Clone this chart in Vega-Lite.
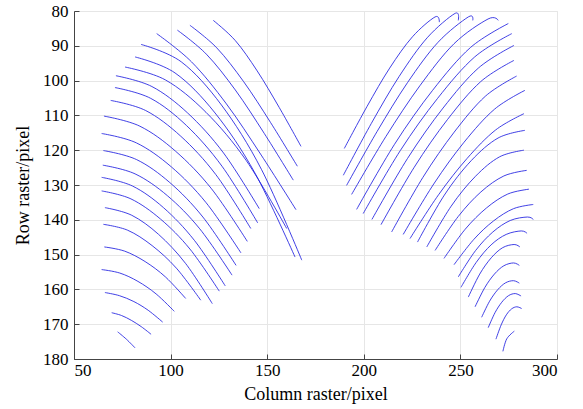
{
  "$schema": "https://vega.github.io/schema/vega-lite/v6.json",
  "width": 483,
  "height": 348,
  "autosize": "none",
  "padding": {"left": 74, "top": 11, "right": 26, "bottom": 50},
  "background": "white",
  "view": {"stroke": "#e6e6e6"},
  "config": {
    "axis": {
      "labelFont": "Liberation Serif", "labelFontSize": 17, "labelColor": "#000",
      "titleFont": "Liberation Serif", "titleFontSize": 18, "titleFontWeight": "normal", "titleColor": "#000",
      "domainColor": "#444", "tickColor": "#444", "gridColor": "#e6e6e6"
    }
  },
  "data": {"values": [
    {"c":"L1","i":0,"x":122.1,"y":82.7},{"c":"L1","i":1,"x":133.5,"y":88.5},{"c":"L1","i":2,"x":144.8,"y":97.2},{"c":"L1","i":3,"x":156.2,"y":107.7},{"c":"L1","i":4,"x":167.5,"y":118.9},
    {"c":"L2","i":0,"x":110.0,"y":84.1},{"c":"L2","i":1,"x":123.9,"y":90.6},{"c":"L2","i":2,"x":137.8,"y":100.3},{"c":"L2","i":3,"x":151.7,"y":112.0},{"c":"L2","i":4,"x":165.6,"y":124.6},
    {"c":"L3","i":0,"x":103.5,"y":85.5},{"c":"L3","i":1,"x":118.5,"y":92.4},{"c":"L3","i":2,"x":133.5,"y":102.7},{"c":"L3","i":3,"x":148.5,"y":115.2},{"c":"L3","i":4,"x":163.5,"y":128.6},
    {"c":"L4","i":0,"x":92.8,"y":86.5},{"c":"L4","i":1,"x":110.8,"y":94.6},{"c":"L4","i":2,"x":128.9,"y":106.7},{"c":"L4","i":3,"x":146.9,"y":121.4},{"c":"L4","i":4,"x":164.9,"y":137.1},
    {"c":"L5","i":0,"x":84.7,"y":89.6},{"c":"L5","i":1,"x":105.5,"y":94.6},{"c":"L5","i":2,"x":126.3,"y":107.0},{"c":"L5","i":3,"x":147.1,"y":125.6},{"c":"L5","i":4,"x":167.9,"y":151.6},
    {"c":"L6","i":0,"x":81.6,"y":93.2},{"c":"L6","i":1,"x":102.3,"y":97.8},{"c":"L6","i":2,"x":123.0,"y":109.3},{"c":"L6","i":3,"x":143.7,"y":126.6},{"c":"L6","i":4,"x":164.4,"y":150.7},
    {"c":"L7","i":0,"x":76.4,"y":96.1},{"c":"L7","i":1,"x":97.3,"y":99.8},{"c":"L7","i":2,"x":118.3,"y":109.1},{"c":"L7","i":3,"x":139.2,"y":123.0},{"c":"L7","i":4,"x":160.1,"y":142.5},
    {"c":"L8","i":0,"x":71.7,"y":98.6},{"c":"L8","i":1,"x":90.3,"y":101.7},{"c":"L8","i":2,"x":108.8,"y":109.3},{"c":"L8","i":3,"x":127.4,"y":120.8},{"c":"L8","i":4,"x":145.9,"y":136.8},
    {"c":"L9","i":0,"x":71.2,"y":102.0},{"c":"L9","i":1,"x":89.7,"y":105.1},{"c":"L9","i":2,"x":108.2,"y":112.9},{"c":"L9","i":3,"x":126.6,"y":124.6},{"c":"L9","i":4,"x":145.1,"y":140.9},
    {"c":"L10","i":0,"x":69.0,"y":105.7},{"c":"L10","i":1,"x":87.1,"y":108.6},{"c":"L10","i":2,"x":105.3,"y":116.0},{"c":"L10","i":3,"x":123.4,"y":127.0},{"c":"L10","i":4,"x":141.5,"y":142.5},
    {"c":"L11","i":0,"x":65.5,"y":110.2},{"c":"L11","i":1,"x":84.1,"y":113.1},{"c":"L11","i":2,"x":102.6,"y":120.3},{"c":"L11","i":3,"x":121.2,"y":131.1},{"c":"L11","i":4,"x":139.7,"y":146.2},
    {"c":"L12","i":0,"x":64.3,"y":115.2},{"c":"L12","i":1,"x":82.3,"y":117.9},{"c":"L12","i":2,"x":100.4,"y":124.8},{"c":"L12","i":3,"x":118.4,"y":135.1},{"c":"L12","i":4,"x":136.4,"y":149.5},
    {"c":"L13","i":0,"x":65.2,"y":120.1},{"c":"L13","i":1,"x":82.4,"y":122.7},{"c":"L13","i":2,"x":99.6,"y":129.3},{"c":"L13","i":3,"x":116.7,"y":139.2},{"c":"L13","i":4,"x":133.9,"y":153.1},
    {"c":"L14","i":0,"x":64.9,"y":124.3},{"c":"L14","i":1,"x":81.6,"y":126.8},{"c":"L14","i":2,"x":98.4,"y":133.1},{"c":"L14","i":3,"x":115.1,"y":142.6},{"c":"L14","i":4,"x":131.8,"y":155.9},
    {"c":"L15","i":0,"x":64.3,"y":127.8},{"c":"L15","i":1,"x":80.3,"y":130.3},{"c":"L15","i":2,"x":96.3,"y":136.5},{"c":"L15","i":3,"x":112.3,"y":145.9},{"c":"L15","i":4,"x":128.3,"y":159.0},
    {"c":"L16","i":0,"x":64.3,"y":131.7},{"c":"L16","i":1,"x":79.5,"y":134.0},{"c":"L16","i":2,"x":94.8,"y":139.8},{"c":"L16","i":3,"x":110.0,"y":148.4},{"c":"L16","i":4,"x":125.2,"y":160.5},
    {"c":"L17","i":0,"x":66.0,"y":136.5},{"c":"L17","i":1,"x":79.9,"y":138.7},{"c":"L17","i":2,"x":93.8,"y":144.2},{"c":"L17","i":3,"x":107.7,"y":152.5},{"c":"L17","i":4,"x":121.6,"y":164.1},
    {"c":"L18","i":0,"x":65.2,"y":141.3},{"c":"L18","i":1,"x":77.8,"y":143.0},{"c":"L18","i":2,"x":90.4,"y":147.4},{"c":"L18","i":3,"x":103.0,"y":153.9},{"c":"L18","i":4,"x":115.6,"y":163.1},
    {"c":"L19","i":0,"x":65.7,"y":147.8},{"c":"L19","i":1,"x":76.2,"y":149.0},{"c":"L19","i":2,"x":86.8,"y":152.0},{"c":"L19","i":3,"x":97.3,"y":156.4},{"c":"L19","i":4,"x":107.8,"y":162.6},
    {"c":"L20","i":0,"x":64.3,"y":154.3},{"c":"L20","i":1,"x":73.7,"y":155.3},{"c":"L20","i":2,"x":83.1,"y":157.7},{"c":"L20","i":3,"x":92.5,"y":161.3},{"c":"L20","i":4,"x":101.9,"y":166.3},
    {"c":"L21","i":0,"x":66.0,"y":160.9},{"c":"L21","i":1,"x":73.5,"y":161.8},{"c":"L21","i":2,"x":81.0,"y":163.5},{"c":"L21","i":3,"x":88.4,"y":166.0},{"c":"L21","i":4,"x":95.9,"y":169.4},
    {"c":"L22","i":0,"x":69.5,"y":166.7},{"c":"L22","i":1,"x":74.6,"y":167.5},{"c":"L22","i":2,"x":79.7,"y":168.9},{"c":"L22","i":3,"x":84.8,"y":170.7},{"c":"L22","i":4,"x":89.9,"y":172.9},
    {"c":"L23","i":0,"x":72.6,"y":172.2},{"c":"L23","i":1,"x":77.1,"y":174.3},{"c":"L23","i":2,"x":81.6,"y":176.8},
    {"c":"R1","i":0,"x":189.9,"y":119.5},{"c":"R1","i":1,"x":201.7,"y":107.4},{"c":"R1","i":2,"x":213.4,"y":96.4},{"c":"R1","i":3,"x":225.2,"y":87.4},{"c":"R1","i":4,"x":236.9,"y":81.7},{"c":"R1","i":5,"x":239.1,"y":83.2},
    {"c":"R2","i":0,"x":189.4,"y":127.2},{"c":"R2","i":1,"x":203.9,"y":112.3},{"c":"R2","i":2,"x":218.3,"y":98.8},{"c":"R2","i":3,"x":232.8,"y":87.7},{"c":"R2","i":4,"x":247.2,"y":80.7},{"c":"R2","i":5,"x":248.9,"y":82.7},
    {"c":"R3","i":0,"x":191.1,"y":130.1},{"c":"R3","i":1,"x":206.9,"y":114.6},{"c":"R3","i":2,"x":222.6,"y":100.6},{"c":"R3","i":3,"x":238.4,"y":89.0},{"c":"R3","i":4,"x":254.1,"y":81.7},{"c":"R3","i":5,"x":256.4,"y":82.7},
    {"c":"R4","i":0,"x":193.7,"y":132.7},{"c":"R4","i":1,"x":211.4,"y":116.1},{"c":"R4","i":2,"x":229.0,"y":101.5},{"c":"R4","i":3,"x":246.7,"y":89.4},{"c":"R4","i":4,"x":264.3,"y":82.3},{"c":"R4","i":5,"x":269.6,"y":82.7},
    {"c":"R5","i":0,"x":196.3,"y":137.0},{"c":"R5","i":1,"x":215.9,"y":118.3},{"c":"R5","i":2,"x":235.6,"y":102.8},{"c":"R5","i":3,"x":255.2,"y":90.5},{"c":"R5","i":4,"x":274.8,"y":83.6},
    {"c":"R6","i":0,"x":199.7,"y":138.2},{"c":"R6","i":1,"x":218.9,"y":120.1},{"c":"R6","i":2,"x":238.2,"y":105.1},{"c":"R6","i":3,"x":257.4,"y":93.2},{"c":"R6","i":4,"x":276.6,"y":86.5},
    {"c":"R7","i":0,"x":204.2,"y":139.9},{"c":"R7","i":1,"x":222.6,"y":122.4},{"c":"R7","i":2,"x":241.0,"y":107.9},{"c":"R7","i":3,"x":259.3,"y":96.4},{"c":"R7","i":4,"x":277.7,"y":89.9},
    {"c":"R8","i":0,"x":208.9,"y":141.4},{"c":"R8","i":1,"x":226.1,"y":124.9},{"c":"R8","i":2,"x":243.3,"y":111.2},{"c":"R8","i":3,"x":260.5,"y":100.3},{"c":"R8","i":4,"x":277.7,"y":94.2},
    {"c":"R9","i":0,"x":214.4,"y":143.5},{"c":"R9","i":1,"x":230.6,"y":127.8},{"c":"R9","i":2,"x":246.8,"y":114.8},{"c":"R9","i":3,"x":262.9,"y":104.5},{"c":"R9","i":4,"x":279.1,"y":98.7},
    {"c":"R10","i":0,"x":220.4,"y":144.2},{"c":"R10","i":1,"x":236.2,"y":129.7},{"c":"R10","i":2,"x":251.9,"y":117.7},{"c":"R10","i":3,"x":267.7,"y":108.2},{"c":"R10","i":4,"x":283.4,"y":102.8},
    {"c":"R11","i":0,"x":223.9,"y":145.4},{"c":"R11","i":1,"x":238.7,"y":132.8},{"c":"R11","i":2,"x":253.4,"y":122.4},{"c":"R11","i":3,"x":268.2,"y":114.2},{"c":"R11","i":4,"x":282.9,"y":109.5},
    {"c":"R12","i":0,"x":227.8,"y":146.4},{"c":"R12","i":1,"x":241.7,"y":132.9},{"c":"R12","i":2,"x":255.6,"y":123.0},{"c":"R12","i":3,"x":269.5,"y":116.5},{"c":"R12","i":4,"x":283.4,"y":114.3},
    {"c":"R13","i":0,"x":232.6,"y":147.8},{"c":"R13","i":1,"x":245.2,"y":136.1},{"c":"R13","i":2,"x":257.8,"y":127.5},{"c":"R13","i":3,"x":270.3,"y":121.9},{"c":"R13","i":4,"x":282.9,"y":120.0},
    {"c":"R14","i":0,"x":236.9,"y":148.8},{"c":"R14","i":1,"x":248.8,"y":139.1},{"c":"R14","i":2,"x":260.6,"y":132.0},{"c":"R14","i":3,"x":272.5,"y":127.4},{"c":"R14","i":4,"x":284.3,"y":125.8},
    {"c":"R15","i":0,"x":241.5,"y":151.1},{"c":"R15","i":1,"x":252.5,"y":142.7},{"c":"R15","i":2,"x":263.5,"y":136.6},{"c":"R15","i":3,"x":274.5,"y":132.6},{"c":"R15","i":4,"x":285.5,"y":131.2},
    {"c":"R16","i":0,"x":246.7,"y":152.9},{"c":"R16","i":1,"x":257.0,"y":145.6},{"c":"R16","i":2,"x":267.2,"y":140.3},{"c":"R16","i":3,"x":277.5,"y":136.8},{"c":"R16","i":4,"x":287.7,"y":135.6},
    {"c":"R17","i":0,"x":248.9,"y":156.4},{"c":"R17","i":1,"x":257.9,"y":148.8},{"c":"R17","i":2,"x":266.8,"y":143.5},{"c":"R17","i":3,"x":275.8,"y":140.2},{"c":"R17","i":4,"x":284.7,"y":139.2},{"c":"R17","i":5,"x":287.7,"y":139.9},
    {"c":"R18","i":0,"x":250.3,"y":159.4},{"c":"R18","i":1,"x":258.1,"y":152.3},{"c":"R18","i":2,"x":265.9,"y":147.2},{"c":"R18","i":3,"x":273.7,"y":144.2},{"c":"R18","i":4,"x":281.5,"y":143.2},{"c":"R18","i":5,"x":284.5,"y":143.9},
    {"c":"R19","i":0,"x":254.1,"y":162.2},{"c":"R19","i":1,"x":260.0,"y":155.6},{"c":"R19","i":2,"x":266.0,"y":150.9},{"c":"R19","i":3,"x":271.9,"y":148.0},{"c":"R19","i":4,"x":277.8,"y":147.1},{"c":"R19","i":5,"x":280.8,"y":147.8},
    {"c":"R20","i":0,"x":257.6,"y":165.0},{"c":"R20","i":1,"x":262.6,"y":159.5},{"c":"R20","i":2,"x":267.6,"y":155.6},{"c":"R20","i":3,"x":272.5,"y":153.2},{"c":"R20","i":4,"x":277.5,"y":152.4},{"c":"R20","i":5,"x":280.5,"y":153.1},
    {"c":"R21","i":0,"x":261.0,"y":168.0},{"c":"R21","i":1,"x":265.1,"y":163.4},{"c":"R21","i":2,"x":269.3,"y":160.1},{"c":"R21","i":3,"x":273.4,"y":158.1},{"c":"R21","i":4,"x":277.5,"y":157.5},{"c":"R21","i":5,"x":280.5,"y":158.2},
    {"c":"R22","i":0,"x":264.4,"y":171.0},{"c":"R22","i":1,"x":267.9,"y":166.7},{"c":"R22","i":2,"x":271.4,"y":163.7},{"c":"R22","i":3,"x":274.9,"y":161.8},{"c":"R22","i":4,"x":278.4,"y":161.2},{"c":"R22","i":5,"x":281.4,"y":161.9},
    {"c":"R23","i":0,"x":268.4,"y":174.3},{"c":"R23","i":1,"x":271.1,"y":170.2},{"c":"R23","i":2,"x":273.8,"y":167.3},{"c":"R23","i":3,"x":276.5,"y":165.6},{"c":"R23","i":4,"x":279.2,"y":165.0},{"c":"R23","i":5,"x":281.7,"y":165.5},
    {"c":"R24","i":0,"x":272.0,"y":177.8},{"c":"R24","i":1,"x":274.0,"y":174.2},{"c":"R24","i":2,"x":277.9,"y":172.0}
  ]},
  "mark": {"type": "line", "interpolate": "cardinal", "color": "#2020e0", "strokeWidth": 1, "opacity": 0.85, "clip": true},
  "encoding": {
    "x": {"field": "x", "type": "quantitative", "scale": {"domain": [50, 300], "nice": false, "zero": false},
          "axis": {"values": [50, 100, 150, 200, 250, 300], "title": "Column raster/pixel",
                   "titleFont": "Liberation Serif", "titleFontSize": 18, "titleFontWeight": "normal",
                   "tickSize": -5, "labelPadding": 8, "titlePadding": 7,
                   "encode": {"labels": {"update": {"font": {"value": "Liberation Serif"}, "fontSize": {"value": 17}, "fill": {"value": "#000"}}}}}},
    "y": {"field": "y", "type": "quantitative", "scale": {"domain": [80, 180], "reverse": true, "nice": false, "zero": false},
          "axis": {"values": [80, 90, 100, 110, 120, 130, 140, 150, 160, 170, 180], "title": "Row raster/pixel",
                   "titleFont": "Liberation Serif", "titleFontSize": 18, "titleFontWeight": "normal",
                   "tickSize": -5, "labelPadding": 11, "titlePadding": 10,
                   "encode": {"labels": {"update": {"font": {"value": "Liberation Serif"}, "fontSize": {"value": 17}, "fill": {"value": "#000"}}}}}},
    "detail": {"field": "c", "type": "nominal"},
    "order": {"field": "i", "type": "quantitative"}
  }
}
